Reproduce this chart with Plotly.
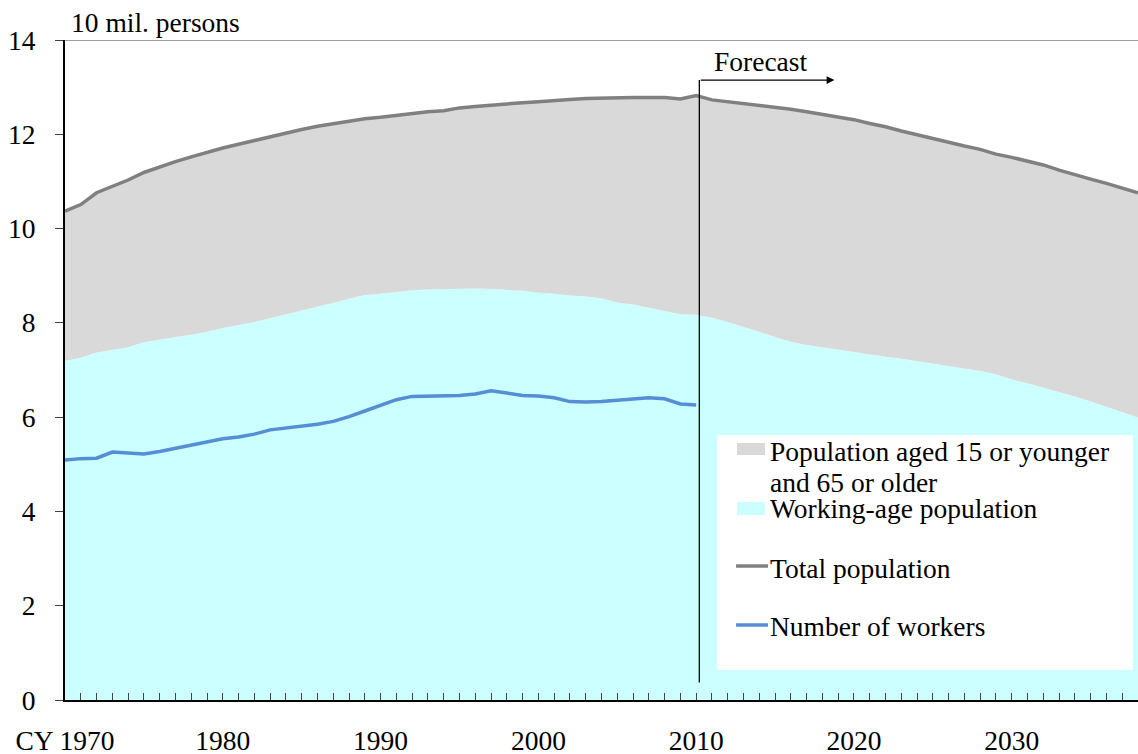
import plotly.graph_objects as go

years = list(range(1970, 2039))
hist_years = list(range(1970, 2011))

total_population = [
    10.37, 10.51, 10.76, 10.89, 11.03, 11.19, 11.31, 11.42, 11.52, 11.62,
    11.71, 11.79, 11.87, 11.95, 12.03, 12.10, 12.17, 12.22, 12.28, 12.33,
    12.36, 12.40, 12.44, 12.48, 12.50, 12.56, 12.59, 12.62, 12.65, 12.67,
    12.69, 12.72, 12.74, 12.76, 12.77, 12.78, 12.78, 12.78, 12.78, 12.75,
    12.82, 12.73, 12.69, 12.66, 12.62, 12.57, 12.53, 12.48, 12.42, 12.37,
    12.31, 12.23, 12.16, 12.07, 11.99, 11.91, 11.82, 11.75, 11.68, 11.58,
    11.51, 11.43, 11.35, 11.24, 11.14, 11.05, 10.96, 10.86, 10.76,
]

working_age = [
    7.19, 7.26, 7.37, 7.42, 7.48, 7.59, 7.65, 7.70, 7.75, 7.81,
    7.89, 7.95, 8.02, 8.10, 8.18, 8.26, 8.35, 8.43, 8.51, 8.59,
    8.62, 8.66, 8.69, 8.71, 8.72, 8.73, 8.73, 8.72, 8.70, 8.68,
    8.64, 8.62, 8.58, 8.56, 8.52, 8.43, 8.39, 8.32, 8.25, 8.18,
    8.17, 8.11, 8.02, 7.92, 7.81, 7.70, 7.60, 7.53, 7.48, 7.42,
    7.38, 7.33, 7.28, 7.24, 7.19, 7.14, 7.09, 7.03, 6.98, 6.91,
    6.80, 6.72, 6.63, 6.53, 6.44, 6.33, 6.22, 6.11, 5.99,
]

workers = [
    5.09, 5.12, 5.13, 5.26, 5.24, 5.22, 5.27, 5.34, 5.41, 5.48,
    5.54, 5.58, 5.64, 5.73, 5.77, 5.81, 5.85, 5.91, 6.01, 6.13,
    6.25, 6.37, 6.44, 6.45, 6.45, 6.46, 6.49, 6.56, 6.51, 6.46,
    6.45, 6.41, 6.33, 6.32, 6.33, 6.36, 6.38, 6.41, 6.39, 6.28,
    6.26,
]

x_tick_vals = [1970, 1980, 1990, 2000, 2010, 2020, 2030]
x_tick_text = ["CY 1970", "1980", "1990", "2000", "2010", "2020", "2030"]
y_tick_vals = [0, 2, 4, 6, 8, 10, 12, 14]

legend_labels = [
    "Population aged 15 or younger",
    "and 65 or older",
    "Working-age population",
    "Total population",
    "Number of workers",
]

FONT = "Liberation Serif, Times New Roman, serif"
FS = 27.5
GRAY_FILL = "#D9D9D9"
CYAN_FILL = "#CCFFFF"
GRAY_LINE = "#808080"
BLUE_LINE = "#558ED5"

fig = go.Figure()
fig.add_trace(go.Scatter(
    x=years, y=working_age, mode="lines", line=dict(width=0, color=CYAN_FILL),
    fill="tozeroy", fillcolor=CYAN_FILL, showlegend=False, hoverinfo="skip",
))
fig.add_trace(go.Scatter(
    x=years, y=total_population, mode="lines", line=dict(width=0, color=GRAY_FILL),
    fill="tonexty", fillcolor=GRAY_FILL, showlegend=False, hoverinfo="skip",
))
fig.add_trace(go.Scatter(
    x=years, y=total_population, mode="lines", line=dict(width=3.5, color=GRAY_LINE),
    showlegend=False,
))
fig.add_trace(go.Scatter(
    x=hist_years, y=workers, mode="lines", line=dict(width=3.5, color=BLUE_LINE),
    showlegend=False,
))

shapes = []
# top border line at 14
shapes.append(dict(type="line", xref="paper", yref="y", x0=0, x1=1, y0=14, y1=14,
                   line=dict(color="#404040", width=1.2), layer="above"))
# forecast vertical line
shapes.append(dict(type="line", xref="x", yref="y", x0=2010.2, x1=2010.2, y0=0.37, y1=13.15,
                   line=dict(color="black", width=1.3), layer="above"))
# legend box
shapes.append(dict(type="rect", xref="paper", yref="paper", x0=0.6076, x1=0.9953,
                   y0=0.0455, y1=0.4015, fillcolor="white", line=dict(width=0), layer="above"))
# legend patches
shapes.append(dict(type="rect", xref="paper", yref="paper", x0=0.6263, x1=0.6524,
                   y0=0.3712, y1=0.3894, fillcolor=GRAY_FILL, line=dict(width=0), layer="above"))
shapes.append(dict(type="rect", xref="paper", yref="paper", x0=0.6263, x1=0.6524,
                   y0=0.2803, y1=0.3000, fillcolor=CYAN_FILL, line=dict(width=0), layer="above"))
shapes.append(dict(type="line", xref="paper", yref="paper", x0=0.6254, x1=0.6552,
                   y0=0.2030, y1=0.2030, line=dict(color=GRAY_LINE, width=3.5), layer="above"))
shapes.append(dict(type="line", xref="paper", yref="paper", x0=0.6254, x1=0.6552,
                   y0=0.1136, y1=0.1136, line=dict(color=BLUE_LINE, width=3.5), layer="above"))

annotations = []
legend_y = [0.376, 0.330, 0.290, 0.200, 0.111]
for lbl, ly in zip(legend_labels, legend_y):
    annotations.append(dict(xref="paper", yref="paper", x=0.655, y=ly, text=lbl,
                            showarrow=False, xanchor="left", yanchor="middle",
                            font=dict(family=FONT, size=FS, color="black")))
# forecast arrow
annotations.append(dict(xref="x", yref="y", x=2018.76, y=13.15, ax=2010.2, ay=13.15,
                        axref="x", ayref="y", showarrow=True, arrowhead=2, arrowsize=1.2,
                        arrowwidth=1.3, arrowcolor="black", text=""))
annotations.append(dict(xref="x", yref="y", x=2014.1, y=13.55, text="Forecast",
                        showarrow=False, xanchor="center", yanchor="middle",
                        font=dict(family=FONT, size=FS, color="black")))
# unit label
annotations.append(dict(xref="paper", yref="paper", x=0.004, y=1.0, text="10 mil. persons",
                        showarrow=False, xanchor="left", yanchor="bottom", yshift=0,
                        font=dict(family=FONT, size=FS, color="black")))

fig.update_layout(
    width=1138, height=754,
    margin=dict(l=65, r=0, t=40, b=54, autoexpand=False),
    paper_bgcolor="white", plot_bgcolor="white",
    font=dict(family=FONT, size=FS, color="black"),
    shapes=shapes, annotations=annotations,
    showlegend=False,
    xaxis=dict(
        range=[1970, 2038], showgrid=False, zeroline=False, automargin=False,
        showline=True, linecolor="black", linewidth=2,
        tickmode="array", tickvals=x_tick_vals, ticktext=x_tick_text,
        ticks="inside", ticklen=7, tickcolor="#404040", tickwidth=1,
        minor=dict(dtick=1, tick0=1970, ticks="inside", ticklen=7, tickcolor="#404040", tickwidth=1),
        ticklabelstandoff=15,
        tickfont=dict(family=FONT, size=FS, color="black"),
    ),
    yaxis=dict(
        range=[0, 14], showgrid=False, zeroline=False, automargin=False,
        showline=True, linecolor="black", linewidth=2,
        tickmode="array", tickvals=y_tick_vals,
        ticks="outside", ticklen=8, tickcolor="#404040", tickwidth=1,
        ticklabelstandoff=14,
        tickfont=dict(family=FONT, size=FS, color="black"),
    ),
)

fig.write_html(
    "out.html",
    config={"displayModeBar": False},
    post_script="document.body.style.margin='0';document.body.style.padding='0';document.body.style.overflow='hidden';",
)
